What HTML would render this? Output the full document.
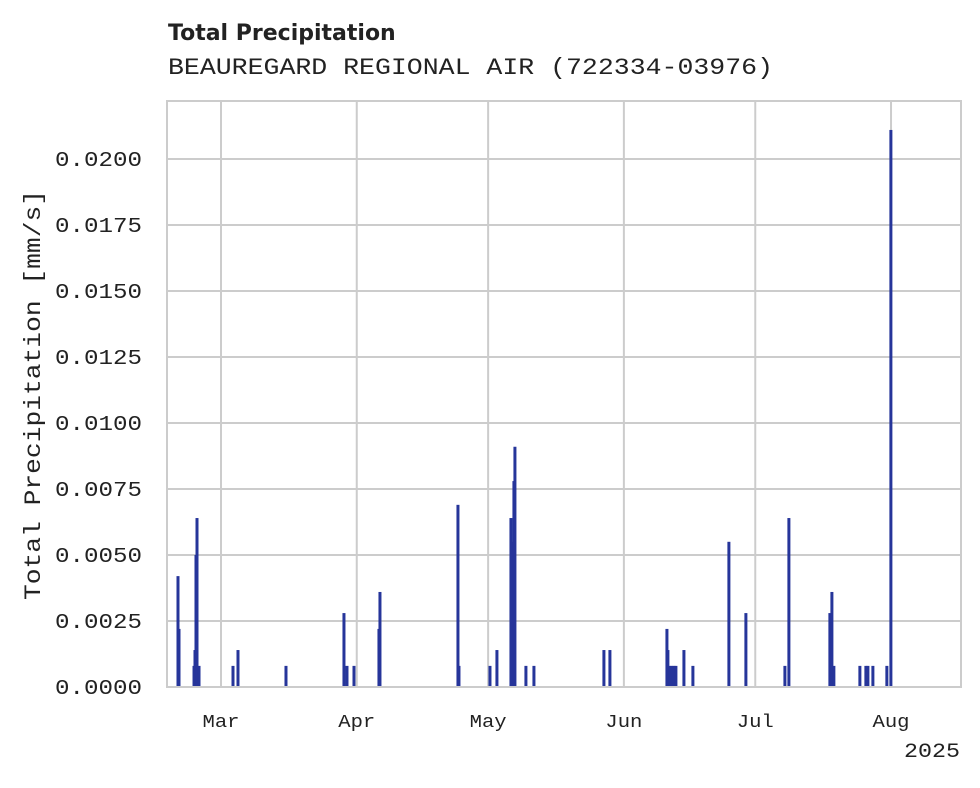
<!DOCTYPE html>
<html><head><meta charset="utf-8"><style>
body{margin:0;background:#fff;width:980px;height:783px;overflow:hidden}
</style></head><body>
<svg id="chart" width="980" height="783" xmlns="http://www.w3.org/2000/svg">
<text x="168" y="40" font-family="DejaVu Sans, sans-serif" font-weight="bold" font-size="22" fill="#222">Total Precipitation</text>
<text x="168" y="74" textLength="605" lengthAdjust="spacingAndGlyphs" font-family="Liberation Mono, DejaVu Sans Mono, monospace" font-size="23" fill="#222">BEAUREGARD REGIONAL AIR (722334-03976)</text>
<g id="grid"></g><g id="bars"></g><g id="axes"></g>
<rect x="167" y="101" width="794" height="586" fill="none" stroke="#ccc" stroke-width="2"/>
<text transform="translate(40,395) rotate(-90)" text-anchor="middle" textLength="410" lengthAdjust="spacingAndGlyphs" font-family="Liberation Mono, DejaVu Sans Mono, monospace" font-size="23" fill="#222">Total Precipitation [mm/s]</text>
<text x="960" y="757" text-anchor="end" textLength="56" lengthAdjust="spacingAndGlyphs" font-family="Liberation Mono, DejaVu Sans Mono, monospace" font-size="20" fill="#222">2025</text>
</svg>
<script>
// day offsets from 2025-03-01
const days=[-9.82,-9.59,-6.16,-5.94,-5.71,-5.48,-5.02,2.74,3.88,14.84,28.08,28.77,30.37,36.07,36.30,54.11,54.34,61.42,63.01,66.21,66.44,66.89,67.12,69.63,71.46,87.44,88.81,101.83,102.05,102.51,102.97,103.42,103.88,105.71,107.76,115.98,119.86,128.77,129.68,139.04,139.50,139.95,145.89,147.26,147.72,148.86,152.05,152.97];
const values=[0.0042,0.0022,0.0008,0.0014,0.0050,0.0064,0.0008,0.0008,0.0014,0.0008,0.0028,0.0008,0.0008,0.0022,0.0036,0.0069,0.0008,0.0008,0.0014,0.0064,0.0055,0.0078,0.0091,0.0008,0.0008,0.0014,0.0014,0.0022,0.0014,0.0008,0.0008,0.0008,0.0008,0.0014,0.0008,0.0055,0.0028,0.0008,0.0064,0.0028,0.0036,0.0008,0.0008,0.0008,0.0008,0.0008,0.0008,0.0211];
const yTicks=[0,0.0025,0.005,0.0075,0.01,0.0125,0.015,0.0175,0.02];
const monthLabels=["Mar","Apr","May","Jun","Jul","Aug"];
const monthDays=[0,31,61,92,122,153];
const NS="http://www.w3.org/2000/svg";
const X0=167,X1=961,Y0=687,Y1=101;
const dMin=-12.33,dMax=168.98;
const xs=d=>X0+(d-dMin)/(dMax-dMin)*(X1-X0);
const ys=v=>Y0-v/0.02*528;
const grid=document.getElementById('grid'),bars=document.getElementById('bars'),axes=document.getElementById('axes');
function mk(tag,at,parent){const e=document.createElementNS(NS,tag);for(const k in at)e.setAttribute(k,at[k]);parent.appendChild(e);return e;}
yTicks.forEach(t=>{
 const y=ys(t);
 const l=mk('line',{x1:X0,x2:X1,y1:y,y2:y,stroke:'#ccc','stroke-width':2},grid);
 
 
 const tx=mk('text',{x:142,y:y+7,'text-anchor':'end',textLength:87,lengthAdjust:'spacingAndGlyphs','font-family':'Liberation Mono, DejaVu Sans Mono, monospace','font-size':21,fill:'#222'},axes);
 tx.textContent=t.toFixed(4);
 
 
});
monthDays.forEach((d,i)=>{
 const x=xs(d);
 const l=mk('line',{x1:x,x2:x,y1:Y1,y2:Y0,stroke:'#ccc','stroke-width':2},grid);
 
 
 const tx=mk('text',{x:x,y:727,'text-anchor':'middle',textLength:37,lengthAdjust:'spacingAndGlyphs','font-family':'Liberation Mono, DejaVu Sans Mono, monospace','font-size':18,fill:'#222'},axes);
 tx.textContent=monthLabels[i];
 
 
});
days.forEach((d,i)=>{
 const x=xs(d),y=ys(values[i]);
 const r=mk('rect',{x:x-1.5,y:y,width:3,height:Y0-y,fill:'#26359a'},bars);
 
 
});
</script>
</body></html>
